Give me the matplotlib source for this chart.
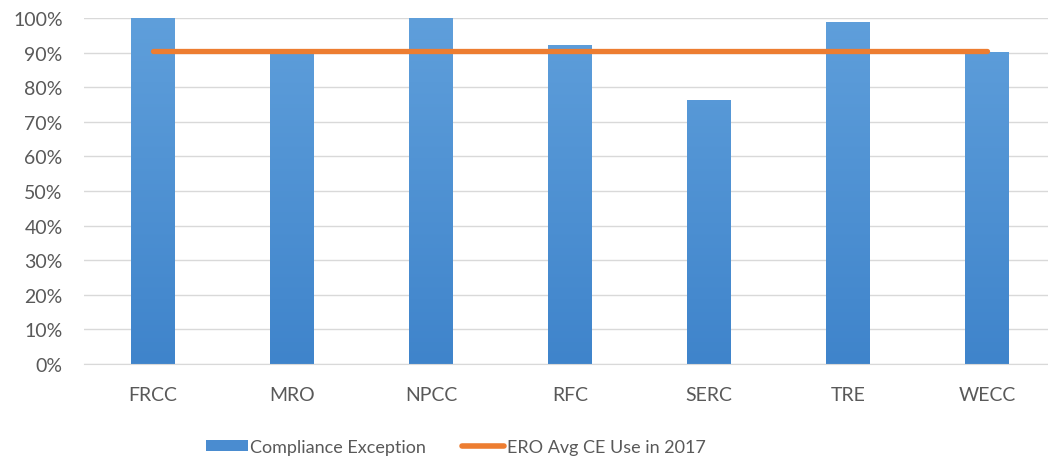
import numpy as np
import matplotlib.pyplot as plt
from matplotlib.lines import Line2D
from matplotlib.patches import Patch
from matplotlib.ticker import PercentFormatter

# Data
regions = ['FRCC', 'MRO', 'NPCC', 'RFC', 'SERC', 'TRE', 'WECC']
ce_share = [1.00, 0.90, 1.00, 0.923, 0.764, 0.989, 0.903]
ero_avg = [0.906] * len(regions)

bar_top = '#5f9fdb'
bar_bottom = '#3f84cb'
orange = '#ed7d31'
grey_txt = '#595959'

plt.rcParams['font.family'] = ['Lato', 'DejaVu Sans']

fig = plt.figure(figsize=(10.48, 4.64), dpi=100)
ax = fig.add_axes([0.0797, 0.2134, 0.9203, 0.7457])

x = np.arange(len(regions))
width = 0.31
bars = ax.bar(x, ce_share, width=width, color=bar_bottom, zorder=2)

# vertical gradient inside each bar
grad = np.linspace(1, 0, 256).reshape(-1, 1)
cmap = plt.matplotlib.colors.LinearSegmentedColormap.from_list('b', [bar_bottom, bar_top])
for b in bars:
    bx = b.get_x()
    im = ax.imshow(grad, cmap=cmap, aspect='auto', zorder=2.5,
                   extent=[bx, bx + b.get_width(), 0, 1], interpolation='bilinear')
    im.set_clip_path(b)

ax.plot(x, ero_avg, color=orange, lw=3.8, solid_capstyle='round', zorder=3)

ax.set_xlim(-0.5, 6.44)
ax.set_ylim(0, 1.0)
ax.set_yticks(np.arange(0, 1.01, 0.1))
ax.yaxis.set_major_formatter(PercentFormatter(1.0, decimals=0))
ax.set_xticks(x)
ax.set_xticklabels(regions)

ax.grid(axis='y', color='#d9d9d9', lw=1.0, zorder=0)
for s in ['top', 'right', 'left']:
    ax.spines[s].set_visible(False)
ax.spines['bottom'].set_color('#d9d9d9')
ax.tick_params(axis='both', length=0, labelsize=14, colors=grey_txt)
ax.tick_params(axis='x', pad=16)
ax.tick_params(axis='y', pad=15)

handles = [Patch(facecolor='#4a8cd0', edgecolor='none'),
           Line2D([0], [0], color=orange, lw=4, solid_capstyle='round')]
fig.legend(handles, ['Compliance Exception', 'ERO Avg CE Use in 2017'],
           loc='center', bbox_to_anchor=(0.435, 0.035), ncol=2, frameon=False,
           fontsize=13, labelcolor=grey_txt, handlelength=2.3, handleheight=0.55,
           handletextpad=0.15, columnspacing=2.0)

fig.savefig('out.png', dpi=100)
